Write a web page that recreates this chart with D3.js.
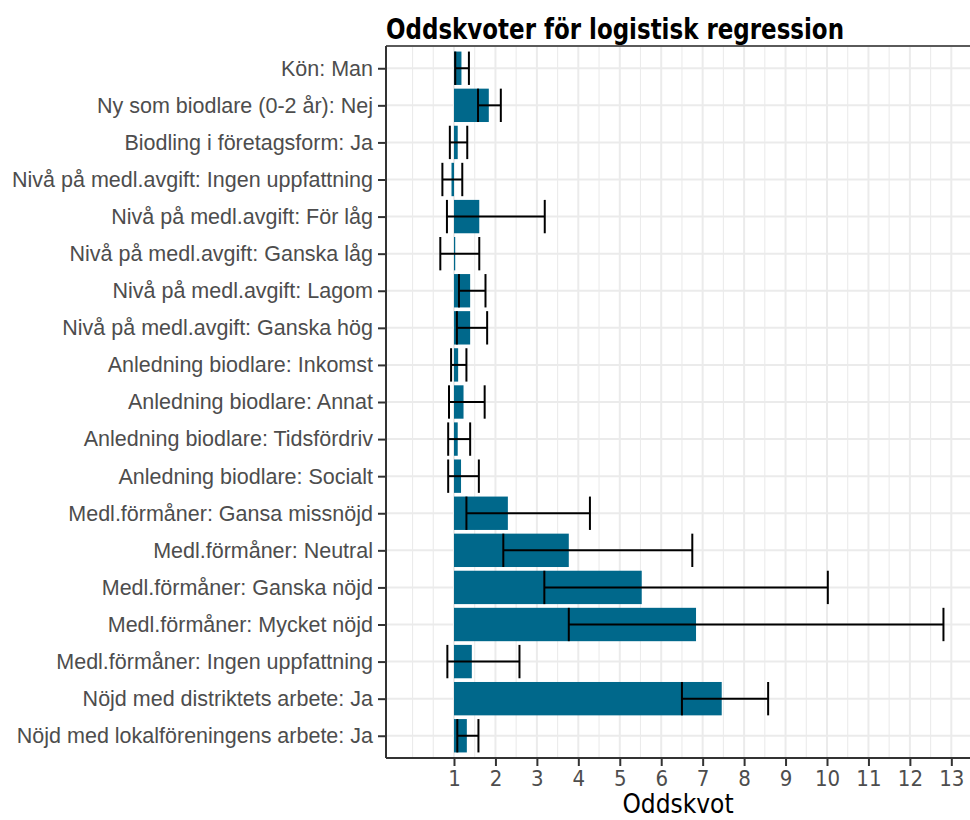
<!DOCTYPE html>
<html>
<head>
<meta charset="utf-8">
<script src="https://cdn.jsdelivr.net/npm/d3@7"></script>
<style>
  html, body { margin: 0; padding: 0; background: #fff; }
  svg { display: block; }
</style>
</head>
<body>
<svg id="chart" width="970" height="820"></svg>
<script>
// Predictors, top to bottom
const categories = [
  "Kön: Man",
  "Ny som biodlare (0-2 år): Nej",
  "Biodling i företagsform: Ja",
  "Nivå på medl.avgift: Ingen uppfattning",
  "Nivå på medl.avgift: För låg",
  "Nivå på medl.avgift: Ganska låg",
  "Nivå på medl.avgift: Lagom",
  "Nivå på medl.avgift: Ganska hög",
  "Anledning biodlare: Inkomst",
  "Anledning biodlare: Annat",
  "Anledning biodlare: Tidsfördriv",
  "Anledning biodlare: Socialt",
  "Medl.förmåner: Gansa missnöjd",
  "Medl.förmåner: Neutral",
  "Medl.förmåner: Ganska nöjd",
  "Medl.förmåner: Mycket nöjd",
  "Medl.förmåner: Ingen uppfattning",
  "Nöjd med distriktets arbete: Ja",
  "Nöjd med lokalföreningens arbete: Ja"
];

// Odds ratios
const oddsRatio = [1.18, 1.84, 1.09, 0.94, 1.61, 1.03, 1.39, 1.39, 1.10, 1.23, 1.09, 1.17,
                   2.30, 3.77, 5.53, 6.84, 1.43, 7.46, 1.31];
// 95% confidence interval, lower bound
const ciLower = [1.03, 1.58, 0.90, 0.72, 0.83, 0.67, 1.12, 1.07, 0.93, 0.88, 0.86, 0.86,
                 1.30, 2.19, 3.18, 3.77, 0.84, 6.50, 1.08];
// 95% confidence interval, upper bound
const ciUpper = [1.36, 2.13, 1.32, 1.20, 3.19, 1.61, 1.76, 1.80, 1.30, 1.74, 1.39, 1.60,
                 4.28, 6.75, 10.02, 12.81, 2.58, 8.58, 1.59];

const xTicks = [1, 2, 3, 4, 5, 6, 7, 8, 9, 10, 11, 12, 13];
const xMinorGrid = [0, 0.5, 1.5, 2.5, 3.5, 4.5, 5.5, 6.5, 7.5, 8.5, 9.5, 10.5, 11.5, 12.5];

const rows = categories.map((c, i) => ({
  name: c, or: oddsRatio[i], lo: ciLower[i], hi: ciUpper[i]
}));

const svg = d3.select("#chart");
const panel = { left: 386, right: 970, top: 46, bottom: 758 };

// x: data from 0 to the largest upper bound, padded 5% each side
const dataMax = d3.max(ciUpper);
const pad = 0.05 * dataMax;
const x = d3.scaleLinear()
  .domain([0 - pad, dataMax + pad])
  .range([panel.left, panel.right]);

// y: discrete bands with 0.6 band padding at both ends
const y = d3.scalePoint()
  .domain(categories)
  .range([panel.top, panel.bottom])
  .padding(0.6);
const step = y.step();
const barH = step * 0.9;

const grid = svg.append("g");
// minor vertical gridlines
grid.selectAll("line.minor").data(xMinorGrid).join("line")
  .attr("class", "minor")
  .attr("x1", d => x(d)).attr("x2", d => x(d))
  .attr("y1", panel.top).attr("y2", panel.bottom)
  .attr("stroke", "#ebebeb").attr("stroke-width", 1.1);
// major vertical gridlines
grid.selectAll("line.majx").data(xTicks).join("line")
  .attr("class", "majx")
  .attr("x1", d => x(d)).attr("x2", d => x(d))
  .attr("y1", panel.top).attr("y2", panel.bottom)
  .attr("stroke", "#ebebeb").attr("stroke-width", 2);
// horizontal gridlines at each predictor
grid.selectAll("line.majy").data(categories).join("line")
  .attr("class", "majy")
  .attr("x1", panel.left).attr("x2", panel.right)
  .attr("y1", d => y(d)).attr("y2", d => y(d))
  .attr("stroke", "#ebebeb").attr("stroke-width", 2);

// bars drawn from 1 (no effect) to the odds ratio
svg.append("g").selectAll("rect").data(rows).join("rect")
  .attr("x", d => Math.min(x(1), x(d.or)))
  .attr("width", d => Math.abs(x(d.or) - x(1)))
  .attr("y", d => y(d.name) - barH / 2)
  .attr("height", barH)
  .attr("fill", "#00688B");

// confidence intervals
const eb = svg.append("g").attr("stroke", "#000").attr("stroke-width", 2).attr("fill", "none");
eb.selectAll("line.h").data(rows).join("line")
  .attr("class", "h")
  .attr("x1", d => x(d.lo)).attr("x2", d => x(d.hi))
  .attr("y1", d => y(d.name)).attr("y2", d => y(d.name));
eb.selectAll("line.lo").data(rows).join("line")
  .attr("class", "lo")
  .attr("x1", d => x(d.lo)).attr("x2", d => x(d.lo))
  .attr("y1", d => y(d.name) - barH / 2).attr("y2", d => y(d.name) + barH / 2);
eb.selectAll("line.hi").data(rows).join("line")
  .attr("class", "hi")
  .attr("x1", d => x(d.hi)).attr("x2", d => x(d.hi))
  .attr("y1", d => y(d.name) - barH / 2).attr("y2", d => y(d.name) + barH / 2);

// top frame line
svg.append("line")
  .attr("x1", panel.left).attr("x2", panel.right)
  .attr("y1", panel.top).attr("y2", panel.top)
  .attr("stroke", "#5a5a5a").attr("stroke-width", 2);

// y axis
const yAxis = svg.append("g")
  .attr("transform", `translate(${panel.left},0)`)
  .call(d3.axisLeft(y).tickSize(8).tickPadding(5));
yAxis.select(".domain").attr("stroke", "#333").attr("stroke-width", 2)
  .attr("d", `M0,${panel.top}V${panel.bottom}`);
yAxis.selectAll(".tick line").attr("stroke", "#333").attr("stroke-width", 2);
yAxis.selectAll(".tick text")
  .attr("fill", "#4d4d4d")
  .style("font-family", "'Liberation Sans', Arial, sans-serif")
  .style("font-size", "21.5px");

// x axis
const xAxis = svg.append("g")
  .attr("transform", `translate(0,${panel.bottom})`)
  .call(d3.axisBottom(x).tickValues(xTicks).tickSize(8).tickPadding(4));
xAxis.select(".domain").attr("stroke", "#333").attr("stroke-width", 2)
  .attr("d", `M${panel.left},0H${panel.right}`);
xAxis.selectAll(".tick line").attr("stroke", "#333").attr("stroke-width", 2);
xAxis.selectAll(".tick text")
  .attr("fill", "#4d4d4d")
  .style("font-family", "'Liberation Sans Narrow', 'DejaVu Sans Condensed', sans-serif")
  .style("font-size", "22px");

// axis title
svg.append("text")
  .attr("x", (panel.left + panel.right) / 2)
  .attr("y", 813)
  .attr("text-anchor", "middle")
  .style("font-family", "'Liberation Sans Narrow', 'DejaVu Sans Condensed', sans-serif")
  .style("font-size", "26px")
  .attr("fill", "#000")
  .text("Oddskvot");

// chart title
svg.append("text")
  .attr("x", panel.left)
  .attr("y", 39)
  .style("font-family", "'DejaVu Sans Condensed', 'Liberation Sans Narrow', sans-serif")
  .style("font-weight", "bold")
  .style("font-size", "29px")
  .attr("fill", "#000")
  .attr("textLength", 458)
  .attr("lengthAdjust", "spacingAndGlyphs")
  .text("Oddskvoter för logistisk regression");
</script>
</body>
</html>
